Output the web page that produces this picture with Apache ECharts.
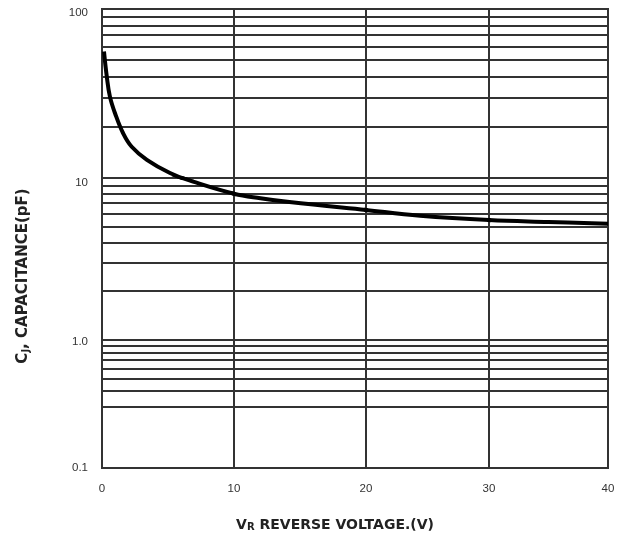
<!DOCTYPE html>
<html>
<head>
<meta charset="utf-8">
<script src="https://cdn.jsdelivr.net/npm/echarts@6/dist/echarts.min.js"></script>
<style>
  html, body { margin: 0; padding: 0; background: #fff; }
  #chart { width: 631px; height: 546px; }
</style>
</head>
<body>
<div id="chart"></div>
<script>
// ---- Data ----
const voltage     = [0.15, 0.36, 0.6, 1.0, 1.6, 2.25, 3.4, 5.15, 6.9, 10, 12, 14.2, 20, 24.4, 30, 35, 40];
const capacitance = [56, 40, 30.3, 24, 18.4, 15.3, 12.8, 10.7, 9.5, 8.0, 7.5, 7.1, 6.35, 5.85, 5.5, 5.35, 5.22];

const xTicks = [0, 10, 20, 30, 40];
const yDecades = [[10, 100], [1, 10], [0.1, 1]];
const yTickValues = [100, 10, 1, 0.1];
const yTickLabels = ['100', '10', '1.0', '0.1'];
const minorLines = [
  [20, 30, 40, 50, 60, 70, 80, 90],
  [2, 3, 4, 5, 6, 7, 8, 9],
  [0.3, 0.4, 0.5, 0.6, 0.7, 0.8, 0.9]
];
const xTitle = ['V', 'R', ' REVERSE VOLTAGE.(V)'];
const yTitle = ['C', 'J', ', CAPACITANCE(pF)'];

// ---- Layout (the reference's hand-drawn grid is slightly uneven) ----
const colPx = [102, 234, 366, 489, 608];
const rowPx = [9, 178, 340, 468];
const labelShift = [20, 22, 15, 11]; // line heights that nudge each y label down like the reference
const lineColor = '#333';
const labelFont = 'Liberation Sans, Arial, sans-serif';

const grids = [], xAxes = [], yAxes = [], series = [];
const curve = voltage.map((v, i) => [v, capacitance[i]]);

const labelRich = {};
labelShift.forEach((h, i) => {
  labelRich['d' + i] = { lineHeight: h, verticalAlign: 'bottom', fontSize: 11.5, color: '#333', fontFamily: labelFont };
});
function yLabel(v) {
  const k = yTickValues.findIndex(t => Math.abs(Math.log10(t) - Math.log10(v)) < 1e-6);
  return k >= 0 ? '{d' + k + '|' + yTickLabels[k] + '}' : '';
}

for (let r = 0; r < 3; r++) {
  for (let c = 0; c < 4; c++) {
    const g = grids.length;
    grids.push({
      left: colPx[c], top: rowPx[r],
      width: colPx[c + 1] - colPx[c], height: rowPx[r + 1] - rowPx[r],
      show: true, borderColor: lineColor, borderWidth: 2, backgroundColor: 'transparent'
    });
    xAxes.push({
      gridIndex: g, type: 'value', min: xTicks[c], max: xTicks[c + 1], interval: 10,
      axisLine: { show: false }, axisTick: { show: false }, splitLine: { show: false },
      axisLabel: {
        show: r === 2, showMinLabel: c === 0, showMaxLabel: true,
        margin: 15, fontSize: 11.5, color: '#333', fontFamily: labelFont
      }
    });
    yAxes.push({
      gridIndex: g, type: 'log', logBase: 10, min: yDecades[r][0], max: yDecades[r][1],
      axisLine: { show: false }, axisTick: { show: false }, splitLine: { show: false },
      axisLabel: {
        show: c === 0, showMinLabel: r !== 0, showMaxLabel: r !== 2,
        margin: 14, fontSize: 11.5, color: '#333', fontFamily: labelFont,
        formatter: yLabel, rich: labelRich
      }
    });
    series.push({
      type: 'line', xAxisIndex: g, yAxisIndex: g, data: [], silent: true, z: 1,
      markLine: {
        silent: true, symbol: ['none', 'none'], label: { show: false },
        lineStyle: { color: lineColor, width: 2, type: 'solid' },
        emphasis: { disabled: true },
        data: minorLines[r].map(v => ({ yAxis: v }))
      }
    });
    if (r < 2) {
      series.push({
        type: 'line', xAxisIndex: g, yAxisIndex: g, data: curve, clip: true,
        showSymbol: false, smooth: 0.4, silent: true, z: 5,
        lineStyle: { color: '#000', width: 4 }
      });
    }
  }
}

function titleStyle(parts, size) {
  return {
    text: '{b|' + parts[0] + '}{s|' + parts[1] + '}{b|' + parts[2] + '}',
    align: 'center', verticalAlign: 'middle',
    rich: {
      b: { fontSize: size, fontWeight: 'bold', fontFamily: 'DejaVu Sans', fill: '#222', verticalAlign: 'bottom', lineHeight: size + 3 },
      s: { fontSize: Math.round(size * 0.68), fontWeight: 'bold', fontFamily: 'DejaVu Sans', fill: '#222', verticalAlign: 'bottom', lineHeight: size + 1 }
    }
  };
}

const chart = echarts.init(document.getElementById('chart'), null, { renderer: 'canvas' });
chart.setOption({
  animation: false,
  backgroundColor: '#fff',
  grid: grids, xAxis: xAxes, yAxis: yAxes, series: series,
  graphic: [
    { type: 'text', x: 335, y: 524, style: titleStyle(xTitle, 14) },
    { type: 'text', x: 22, y: 276, rotation: Math.PI / 2, style: titleStyle(yTitle, 15) }
  ]
});
</script>
</body>
</html>
